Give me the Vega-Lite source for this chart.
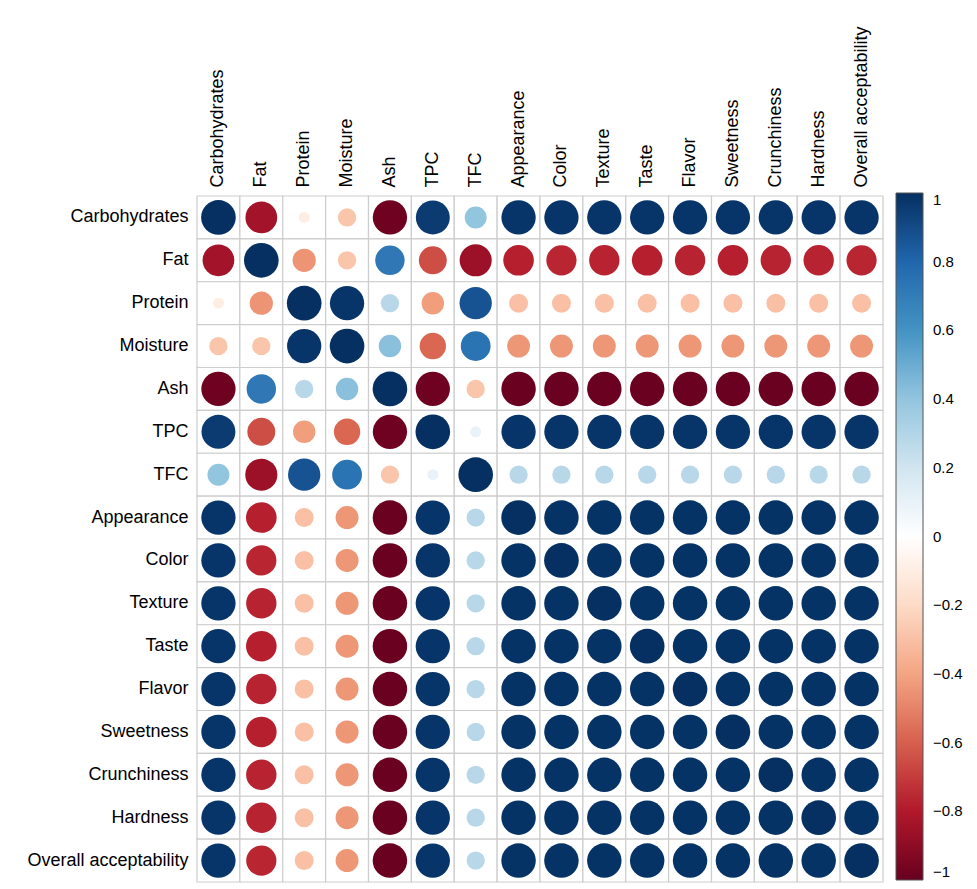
{
  "$schema": "https://vega.github.io/schema/vega-lite/v6.json",
  "width": 686,
  "height": 686,
  "autosize": "none",
  "padding": {"left": 197, "top": 196, "right": 94, "bottom": 7},
  "background": "white",
  "config": {
    "view": {"stroke": null},
    "font": "Liberation Sans",
    "axis": {
      "labelFont": "Liberation Sans",
      "labelFontSize": 18,
      "labelColor": "#000000",
      "ticks": false,
      "domain": false,
      "grid": false,
      "title": null,
      "labelPadding": 8
    },
    "legend": {
      "labelFont": "Liberation Sans",
      "labelFontSize": 15,
      "labelColor": "#000000"
    }
  },
  "data": {
    "values": [
      {"row": "Carbohydrates", "col": "Carbohydrates", "r": 1},
      {"row": "Carbohydrates", "col": "Fat", "r": -0.84},
      {"row": "Carbohydrates", "col": "Protein", "r": -0.1},
      {"row": "Carbohydrates", "col": "Moisture", "r": -0.28},
      {"row": "Carbohydrates", "col": "Ash", "r": -0.98},
      {"row": "Carbohydrates", "col": "TPC", "r": 0.96},
      {"row": "Carbohydrates", "col": "TFC", "r": 0.4},
      {"row": "Carbohydrates", "col": "Appearance", "r": 0.98},
      {"row": "Carbohydrates", "col": "Color", "r": 0.98},
      {"row": "Carbohydrates", "col": "Texture", "r": 0.98},
      {"row": "Carbohydrates", "col": "Taste", "r": 0.98},
      {"row": "Carbohydrates", "col": "Flavor", "r": 0.98},
      {"row": "Carbohydrates", "col": "Sweetness", "r": 0.98},
      {"row": "Carbohydrates", "col": "Crunchiness", "r": 0.98},
      {"row": "Carbohydrates", "col": "Hardness", "r": 0.98},
      {"row": "Carbohydrates", "col": "Overall acceptability", "r": 0.98},

      {"row": "Fat", "col": "Carbohydrates", "r": -0.84},
      {"row": "Fat", "col": "Fat", "r": 1},
      {"row": "Fat", "col": "Protein", "r": -0.45},
      {"row": "Fat", "col": "Moisture", "r": -0.28},
      {"row": "Fat", "col": "Ash", "r": 0.72},
      {"row": "Fat", "col": "TPC", "r": -0.65},
      {"row": "Fat", "col": "TFC", "r": -0.86},
      {"row": "Fat", "col": "Appearance", "r": -0.78},
      {"row": "Fat", "col": "Color", "r": -0.76},
      {"row": "Fat", "col": "Texture", "r": -0.77},
      {"row": "Fat", "col": "Taste", "r": -0.78},
      {"row": "Fat", "col": "Flavor", "r": -0.77},
      {"row": "Fat", "col": "Sweetness", "r": -0.78},
      {"row": "Fat", "col": "Crunchiness", "r": -0.77},
      {"row": "Fat", "col": "Hardness", "r": -0.77},
      {"row": "Fat", "col": "Overall acceptability", "r": -0.76},

      {"row": "Protein", "col": "Carbohydrates", "r": -0.1},
      {"row": "Protein", "col": "Fat", "r": -0.45},
      {"row": "Protein", "col": "Protein", "r": 1},
      {"row": "Protein", "col": "Moisture", "r": 0.98},
      {"row": "Protein", "col": "Ash", "r": 0.28},
      {"row": "Protein", "col": "TPC", "r": -0.42},
      {"row": "Protein", "col": "TFC", "r": 0.87},
      {"row": "Protein", "col": "Appearance", "r": -0.3},
      {"row": "Protein", "col": "Color", "r": -0.3},
      {"row": "Protein", "col": "Texture", "r": -0.3},
      {"row": "Protein", "col": "Taste", "r": -0.3},
      {"row": "Protein", "col": "Flavor", "r": -0.3},
      {"row": "Protein", "col": "Sweetness", "r": -0.3},
      {"row": "Protein", "col": "Crunchiness", "r": -0.3},
      {"row": "Protein", "col": "Hardness", "r": -0.3},
      {"row": "Protein", "col": "Overall acceptability", "r": -0.3},

      {"row": "Moisture", "col": "Carbohydrates", "r": -0.28},
      {"row": "Moisture", "col": "Fat", "r": -0.28},
      {"row": "Moisture", "col": "Protein", "r": 0.98},
      {"row": "Moisture", "col": "Moisture", "r": 1},
      {"row": "Moisture", "col": "Ash", "r": 0.42},
      {"row": "Moisture", "col": "TPC", "r": -0.58},
      {"row": "Moisture", "col": "TFC", "r": 0.74},
      {"row": "Moisture", "col": "Appearance", "r": -0.44},
      {"row": "Moisture", "col": "Color", "r": -0.44},
      {"row": "Moisture", "col": "Texture", "r": -0.44},
      {"row": "Moisture", "col": "Taste", "r": -0.44},
      {"row": "Moisture", "col": "Flavor", "r": -0.44},
      {"row": "Moisture", "col": "Sweetness", "r": -0.44},
      {"row": "Moisture", "col": "Crunchiness", "r": -0.44},
      {"row": "Moisture", "col": "Hardness", "r": -0.44},
      {"row": "Moisture", "col": "Overall acceptability", "r": -0.44},

      {"row": "Ash", "col": "Carbohydrates", "r": -0.98},
      {"row": "Ash", "col": "Fat", "r": 0.72},
      {"row": "Ash", "col": "Protein", "r": 0.28},
      {"row": "Ash", "col": "Moisture", "r": 0.42},
      {"row": "Ash", "col": "Ash", "r": 1},
      {"row": "Ash", "col": "TPC", "r": -0.98},
      {"row": "Ash", "col": "TFC", "r": -0.28},
      {"row": "Ash", "col": "Appearance", "r": -0.99},
      {"row": "Ash", "col": "Color", "r": -0.99},
      {"row": "Ash", "col": "Texture", "r": -0.99},
      {"row": "Ash", "col": "Taste", "r": -0.99},
      {"row": "Ash", "col": "Flavor", "r": -0.99},
      {"row": "Ash", "col": "Sweetness", "r": -0.99},
      {"row": "Ash", "col": "Crunchiness", "r": -0.99},
      {"row": "Ash", "col": "Hardness", "r": -0.99},
      {"row": "Ash", "col": "Overall acceptability", "r": -0.99},

      {"row": "TPC", "col": "Carbohydrates", "r": 0.96},
      {"row": "TPC", "col": "Fat", "r": -0.65},
      {"row": "TPC", "col": "Protein", "r": -0.42},
      {"row": "TPC", "col": "Moisture", "r": -0.58},
      {"row": "TPC", "col": "Ash", "r": -0.98},
      {"row": "TPC", "col": "TPC", "r": 1},
      {"row": "TPC", "col": "TFC", "r": 0.1},
      {"row": "TPC", "col": "Appearance", "r": 0.98},
      {"row": "TPC", "col": "Color", "r": 0.98},
      {"row": "TPC", "col": "Texture", "r": 0.98},
      {"row": "TPC", "col": "Taste", "r": 0.98},
      {"row": "TPC", "col": "Flavor", "r": 0.98},
      {"row": "TPC", "col": "Sweetness", "r": 0.98},
      {"row": "TPC", "col": "Crunchiness", "r": 0.98},
      {"row": "TPC", "col": "Hardness", "r": 0.98},
      {"row": "TPC", "col": "Overall acceptability", "r": 0.98},

      {"row": "TFC", "col": "Carbohydrates", "r": 0.4},
      {"row": "TFC", "col": "Fat", "r": -0.86},
      {"row": "TFC", "col": "Protein", "r": 0.87},
      {"row": "TFC", "col": "Moisture", "r": 0.74},
      {"row": "TFC", "col": "Ash", "r": -0.28},
      {"row": "TFC", "col": "TPC", "r": 0.1},
      {"row": "TFC", "col": "TFC", "r": 1},
      {"row": "TFC", "col": "Appearance", "r": 0.28},
      {"row": "TFC", "col": "Color", "r": 0.28},
      {"row": "TFC", "col": "Texture", "r": 0.28},
      {"row": "TFC", "col": "Taste", "r": 0.28},
      {"row": "TFC", "col": "Flavor", "r": 0.28},
      {"row": "TFC", "col": "Sweetness", "r": 0.28},
      {"row": "TFC", "col": "Crunchiness", "r": 0.28},
      {"row": "TFC", "col": "Hardness", "r": 0.28},
      {"row": "TFC", "col": "Overall acceptability", "r": 0.28},

      {"row": "Appearance", "col": "Carbohydrates", "r": 0.98},
      {"row": "Appearance", "col": "Fat", "r": -0.78},
      {"row": "Appearance", "col": "Protein", "r": -0.3},
      {"row": "Appearance", "col": "Moisture", "r": -0.44},
      {"row": "Appearance", "col": "Ash", "r": -0.99},
      {"row": "Appearance", "col": "TPC", "r": 0.98},
      {"row": "Appearance", "col": "TFC", "r": 0.28},
      {"row": "Appearance", "col": "Appearance", "r": 1},
      {"row": "Appearance", "col": "Color", "r": 0.99},
      {"row": "Appearance", "col": "Texture", "r": 0.99},
      {"row": "Appearance", "col": "Taste", "r": 0.99},
      {"row": "Appearance", "col": "Flavor", "r": 0.99},
      {"row": "Appearance", "col": "Sweetness", "r": 0.99},
      {"row": "Appearance", "col": "Crunchiness", "r": 0.99},
      {"row": "Appearance", "col": "Hardness", "r": 0.99},
      {"row": "Appearance", "col": "Overall acceptability", "r": 0.99},

      {"row": "Color", "col": "Carbohydrates", "r": 0.98},
      {"row": "Color", "col": "Fat", "r": -0.76},
      {"row": "Color", "col": "Protein", "r": -0.3},
      {"row": "Color", "col": "Moisture", "r": -0.44},
      {"row": "Color", "col": "Ash", "r": -0.99},
      {"row": "Color", "col": "TPC", "r": 0.98},
      {"row": "Color", "col": "TFC", "r": 0.28},
      {"row": "Color", "col": "Appearance", "r": 0.99},
      {"row": "Color", "col": "Color", "r": 1},
      {"row": "Color", "col": "Texture", "r": 0.99},
      {"row": "Color", "col": "Taste", "r": 0.99},
      {"row": "Color", "col": "Flavor", "r": 0.99},
      {"row": "Color", "col": "Sweetness", "r": 0.99},
      {"row": "Color", "col": "Crunchiness", "r": 0.99},
      {"row": "Color", "col": "Hardness", "r": 0.99},
      {"row": "Color", "col": "Overall acceptability", "r": 0.99},

      {"row": "Texture", "col": "Carbohydrates", "r": 0.98},
      {"row": "Texture", "col": "Fat", "r": -0.77},
      {"row": "Texture", "col": "Protein", "r": -0.3},
      {"row": "Texture", "col": "Moisture", "r": -0.44},
      {"row": "Texture", "col": "Ash", "r": -0.99},
      {"row": "Texture", "col": "TPC", "r": 0.98},
      {"row": "Texture", "col": "TFC", "r": 0.28},
      {"row": "Texture", "col": "Appearance", "r": 0.99},
      {"row": "Texture", "col": "Color", "r": 0.99},
      {"row": "Texture", "col": "Texture", "r": 1},
      {"row": "Texture", "col": "Taste", "r": 0.99},
      {"row": "Texture", "col": "Flavor", "r": 0.99},
      {"row": "Texture", "col": "Sweetness", "r": 0.99},
      {"row": "Texture", "col": "Crunchiness", "r": 0.99},
      {"row": "Texture", "col": "Hardness", "r": 0.99},
      {"row": "Texture", "col": "Overall acceptability", "r": 0.99},

      {"row": "Taste", "col": "Carbohydrates", "r": 0.98},
      {"row": "Taste", "col": "Fat", "r": -0.78},
      {"row": "Taste", "col": "Protein", "r": -0.3},
      {"row": "Taste", "col": "Moisture", "r": -0.44},
      {"row": "Taste", "col": "Ash", "r": -0.99},
      {"row": "Taste", "col": "TPC", "r": 0.98},
      {"row": "Taste", "col": "TFC", "r": 0.28},
      {"row": "Taste", "col": "Appearance", "r": 0.99},
      {"row": "Taste", "col": "Color", "r": 0.99},
      {"row": "Taste", "col": "Texture", "r": 0.99},
      {"row": "Taste", "col": "Taste", "r": 1},
      {"row": "Taste", "col": "Flavor", "r": 0.99},
      {"row": "Taste", "col": "Sweetness", "r": 0.99},
      {"row": "Taste", "col": "Crunchiness", "r": 0.99},
      {"row": "Taste", "col": "Hardness", "r": 0.99},
      {"row": "Taste", "col": "Overall acceptability", "r": 0.99},

      {"row": "Flavor", "col": "Carbohydrates", "r": 0.98},
      {"row": "Flavor", "col": "Fat", "r": -0.77},
      {"row": "Flavor", "col": "Protein", "r": -0.3},
      {"row": "Flavor", "col": "Moisture", "r": -0.44},
      {"row": "Flavor", "col": "Ash", "r": -0.99},
      {"row": "Flavor", "col": "TPC", "r": 0.98},
      {"row": "Flavor", "col": "TFC", "r": 0.28},
      {"row": "Flavor", "col": "Appearance", "r": 0.99},
      {"row": "Flavor", "col": "Color", "r": 0.99},
      {"row": "Flavor", "col": "Texture", "r": 0.99},
      {"row": "Flavor", "col": "Taste", "r": 0.99},
      {"row": "Flavor", "col": "Flavor", "r": 1},
      {"row": "Flavor", "col": "Sweetness", "r": 0.99},
      {"row": "Flavor", "col": "Crunchiness", "r": 0.99},
      {"row": "Flavor", "col": "Hardness", "r": 0.99},
      {"row": "Flavor", "col": "Overall acceptability", "r": 0.99},

      {"row": "Sweetness", "col": "Carbohydrates", "r": 0.98},
      {"row": "Sweetness", "col": "Fat", "r": -0.78},
      {"row": "Sweetness", "col": "Protein", "r": -0.3},
      {"row": "Sweetness", "col": "Moisture", "r": -0.44},
      {"row": "Sweetness", "col": "Ash", "r": -0.99},
      {"row": "Sweetness", "col": "TPC", "r": 0.98},
      {"row": "Sweetness", "col": "TFC", "r": 0.28},
      {"row": "Sweetness", "col": "Appearance", "r": 0.99},
      {"row": "Sweetness", "col": "Color", "r": 0.99},
      {"row": "Sweetness", "col": "Texture", "r": 0.99},
      {"row": "Sweetness", "col": "Taste", "r": 0.99},
      {"row": "Sweetness", "col": "Flavor", "r": 0.99},
      {"row": "Sweetness", "col": "Sweetness", "r": 1},
      {"row": "Sweetness", "col": "Crunchiness", "r": 0.99},
      {"row": "Sweetness", "col": "Hardness", "r": 0.99},
      {"row": "Sweetness", "col": "Overall acceptability", "r": 0.99},

      {"row": "Crunchiness", "col": "Carbohydrates", "r": 0.98},
      {"row": "Crunchiness", "col": "Fat", "r": -0.77},
      {"row": "Crunchiness", "col": "Protein", "r": -0.3},
      {"row": "Crunchiness", "col": "Moisture", "r": -0.44},
      {"row": "Crunchiness", "col": "Ash", "r": -0.99},
      {"row": "Crunchiness", "col": "TPC", "r": 0.98},
      {"row": "Crunchiness", "col": "TFC", "r": 0.28},
      {"row": "Crunchiness", "col": "Appearance", "r": 0.99},
      {"row": "Crunchiness", "col": "Color", "r": 0.99},
      {"row": "Crunchiness", "col": "Texture", "r": 0.99},
      {"row": "Crunchiness", "col": "Taste", "r": 0.99},
      {"row": "Crunchiness", "col": "Flavor", "r": 0.99},
      {"row": "Crunchiness", "col": "Sweetness", "r": 0.99},
      {"row": "Crunchiness", "col": "Crunchiness", "r": 1},
      {"row": "Crunchiness", "col": "Hardness", "r": 0.99},
      {"row": "Crunchiness", "col": "Overall acceptability", "r": 0.99},

      {"row": "Hardness", "col": "Carbohydrates", "r": 0.98},
      {"row": "Hardness", "col": "Fat", "r": -0.77},
      {"row": "Hardness", "col": "Protein", "r": -0.3},
      {"row": "Hardness", "col": "Moisture", "r": -0.44},
      {"row": "Hardness", "col": "Ash", "r": -0.99},
      {"row": "Hardness", "col": "TPC", "r": 0.98},
      {"row": "Hardness", "col": "TFC", "r": 0.28},
      {"row": "Hardness", "col": "Appearance", "r": 0.99},
      {"row": "Hardness", "col": "Color", "r": 0.99},
      {"row": "Hardness", "col": "Texture", "r": 0.99},
      {"row": "Hardness", "col": "Taste", "r": 0.99},
      {"row": "Hardness", "col": "Flavor", "r": 0.99},
      {"row": "Hardness", "col": "Sweetness", "r": 0.99},
      {"row": "Hardness", "col": "Crunchiness", "r": 0.99},
      {"row": "Hardness", "col": "Hardness", "r": 1},
      {"row": "Hardness", "col": "Overall acceptability", "r": 0.99},

      {"row": "Overall acceptability", "col": "Carbohydrates", "r": 0.98},
      {"row": "Overall acceptability", "col": "Fat", "r": -0.76},
      {"row": "Overall acceptability", "col": "Protein", "r": -0.3},
      {"row": "Overall acceptability", "col": "Moisture", "r": -0.44},
      {"row": "Overall acceptability", "col": "Ash", "r": -0.99},
      {"row": "Overall acceptability", "col": "TPC", "r": 0.98},
      {"row": "Overall acceptability", "col": "TFC", "r": 0.28},
      {"row": "Overall acceptability", "col": "Appearance", "r": 0.99},
      {"row": "Overall acceptability", "col": "Color", "r": 0.99},
      {"row": "Overall acceptability", "col": "Texture", "r": 0.99},
      {"row": "Overall acceptability", "col": "Taste", "r": 0.99},
      {"row": "Overall acceptability", "col": "Flavor", "r": 0.99},
      {"row": "Overall acceptability", "col": "Sweetness", "r": 0.99},
      {"row": "Overall acceptability", "col": "Crunchiness", "r": 0.99},
      {"row": "Overall acceptability", "col": "Hardness", "r": 0.99},
      {"row": "Overall acceptability", "col": "Overall acceptability", "r": 1}
    ]
  },
  "encoding": {
    "x": {
      "field": "col",
      "type": "nominal",
      "sort": ["Carbohydrates", "Fat", "Protein", "Moisture", "Ash", "TPC", "TFC", "Appearance", "Color", "Texture", "Taste", "Flavor", "Sweetness", "Crunchiness", "Hardness", "Overall acceptability"],
      "scale": {"paddingInner": 0, "paddingOuter": 0},
      "axis": {"orient": "top", "labelAngle": -90, "labelPadding": 9}
    },
    "y": {
      "field": "row",
      "type": "nominal",
      "sort": ["Carbohydrates", "Fat", "Protein", "Moisture", "Ash", "TPC", "TFC", "Appearance", "Color", "Texture", "Taste", "Flavor", "Sweetness", "Crunchiness", "Hardness", "Overall acceptability"],
      "scale": {"paddingInner": 0, "paddingOuter": 0},
      "axis": {"orient": "left", "labelPadding": 9}
    }
  },
  "layer": [
    {
      "mark": {"type": "rect", "fill": "white", "stroke": "#cdcdcd", "strokeWidth": 1.2}
    },
    {
      "mark": {"type": "circle", "opacity": 1, "stroke": null},
      "encoding": {
        "color": {
          "field": "r",
          "type": "quantitative",
          "scale": {
            "type": "linear",
            "domain": [-1, -0.8, -0.6, -0.4, -0.2, 0, 0.2, 0.4, 0.6, 0.8, 1],
            "range": ["#67001F", "#B2182B", "#D6604D", "#F4A582", "#FDDBC7", "#FFFFFF", "#D1E5F0", "#92C5DE", "#4393C3", "#2166AC", "#053061"],
            "interpolate": "rgb"
          },
          "legend": {
            "type": "gradient",
            "direction": "vertical",
            "orient": "none",
            "legendX": 699,
            "legendY": -3,
            "title": null,
            "gradientLength": 687,
            "gradientThickness": 27,
            "gradientStrokeColor": "#555555",
            "gradientStrokeWidth": 1,
            "values": [-1, -0.8, -0.6, -0.4, -0.2, 0, 0.2, 0.4, 0.6, 0.8, 1],
            "format": "~g",
            "labelOffset": 10,
            "labelOverlap": false
          }
        },
        "size": {
          "field": "r",
          "type": "quantitative",
          "scale": {"type": "linear", "domain": [-1, 0, 1], "range": [1200, 0, 1200]},
          "legend": null
        }
      }
    }
  ]
}
